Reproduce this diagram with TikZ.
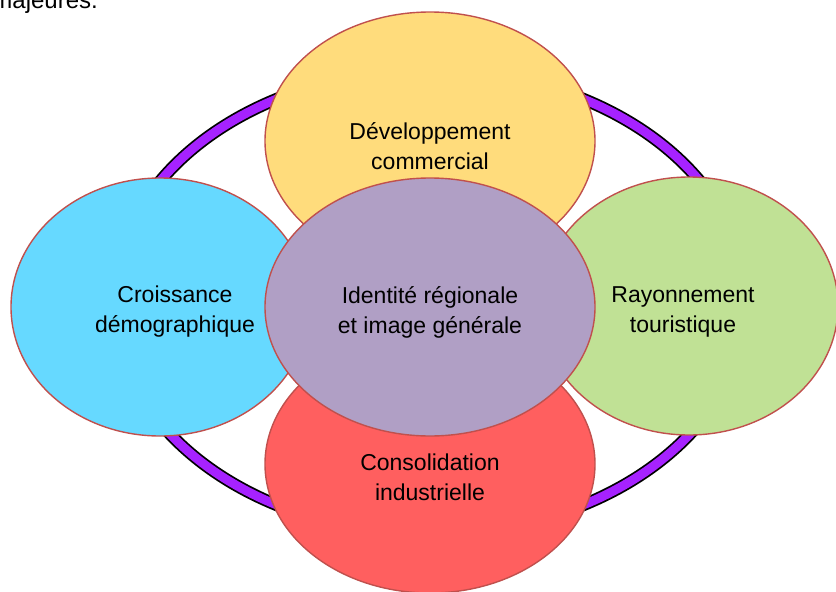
\documentclass[tikz,border=0pt]{standalone}
\usepackage{fontspec}
\setmainfont{Liberation Sans}
\usetikzlibrary{shapes.geometric}

\definecolor{edgered}{HTML}{C0504D}
\definecolor{ringpurple}{HTML}{A622FF}
\definecolor{petalyellow}{HTML}{FFDC7C}
\definecolor{petalblue}{HTML}{66D9FF}
\definecolor{petalgreen}{HTML}{C0E195}
\definecolor{petalred}{HTML}{FF5F5F}
\definecolor{corelilac}{HTML}{B09FC5}

\tikzset{
  petal/.style={ellipse, draw=edgered, line width=1.4pt, inner sep=0pt},
  wide/.style={minimum width=330pt, minimum height=258pt},
  side/.style={minimum width=298pt, minimum height=258pt},
  caption/.style={align=center, font=\fontsize{23}{30}\selectfont, text=black}
}

\begin{document}
\begin{tikzpicture}[x=1pt, y=-1pt]
  \useasboundingbox (0,0) rectangle (836,592);
  \clip (0,0) rectangle (836,592);

  % trailing words of the preceding paragraph
  \node[anchor=base east, font=\fontsize{24}{28}\selectfont, inner sep=0pt] (intro) at (98,8) {majeures.};

  % ring behind the petals
  \draw[line width=12.5pt, black] (430,302) ellipse [x radius=316pt, y radius=232pt];
  \draw[line width=9pt, ringpurple] (430,302) ellipse [x radius=316pt, y radius=232pt];

  % outer petals
  \node[petal, wide, fill=petalyellow] (commerce) at (430,141) {};
  \node[petal, side, fill=petalblue]   (demo)     at (160,307) {};
  \node[petal, side, fill=petalgreen]  (tourism)  at (689,306) {};
  \node[petal, wide, fill=petalred]    (industry) at (430,464) {};

  % central petal
  \node[petal, wide, fill=corelilac]   (identity) at (430,307) {};

  % labels
  \node[caption] (commerceText) at (430,146) {Développement\\commercial};
  \node[caption] (demoText)     at (175,312) {Croissance\\démographique};
  \node[caption] (tourismText)  at (683,312) {Rayonnement\\touristique};
  \node[caption] (identityText) at (430,312) {Identité régionale\\et image générale};
  \node[caption] (industryText) at (430,477) {Consolidation\\industrielle};
\end{tikzpicture}
\end{document}
